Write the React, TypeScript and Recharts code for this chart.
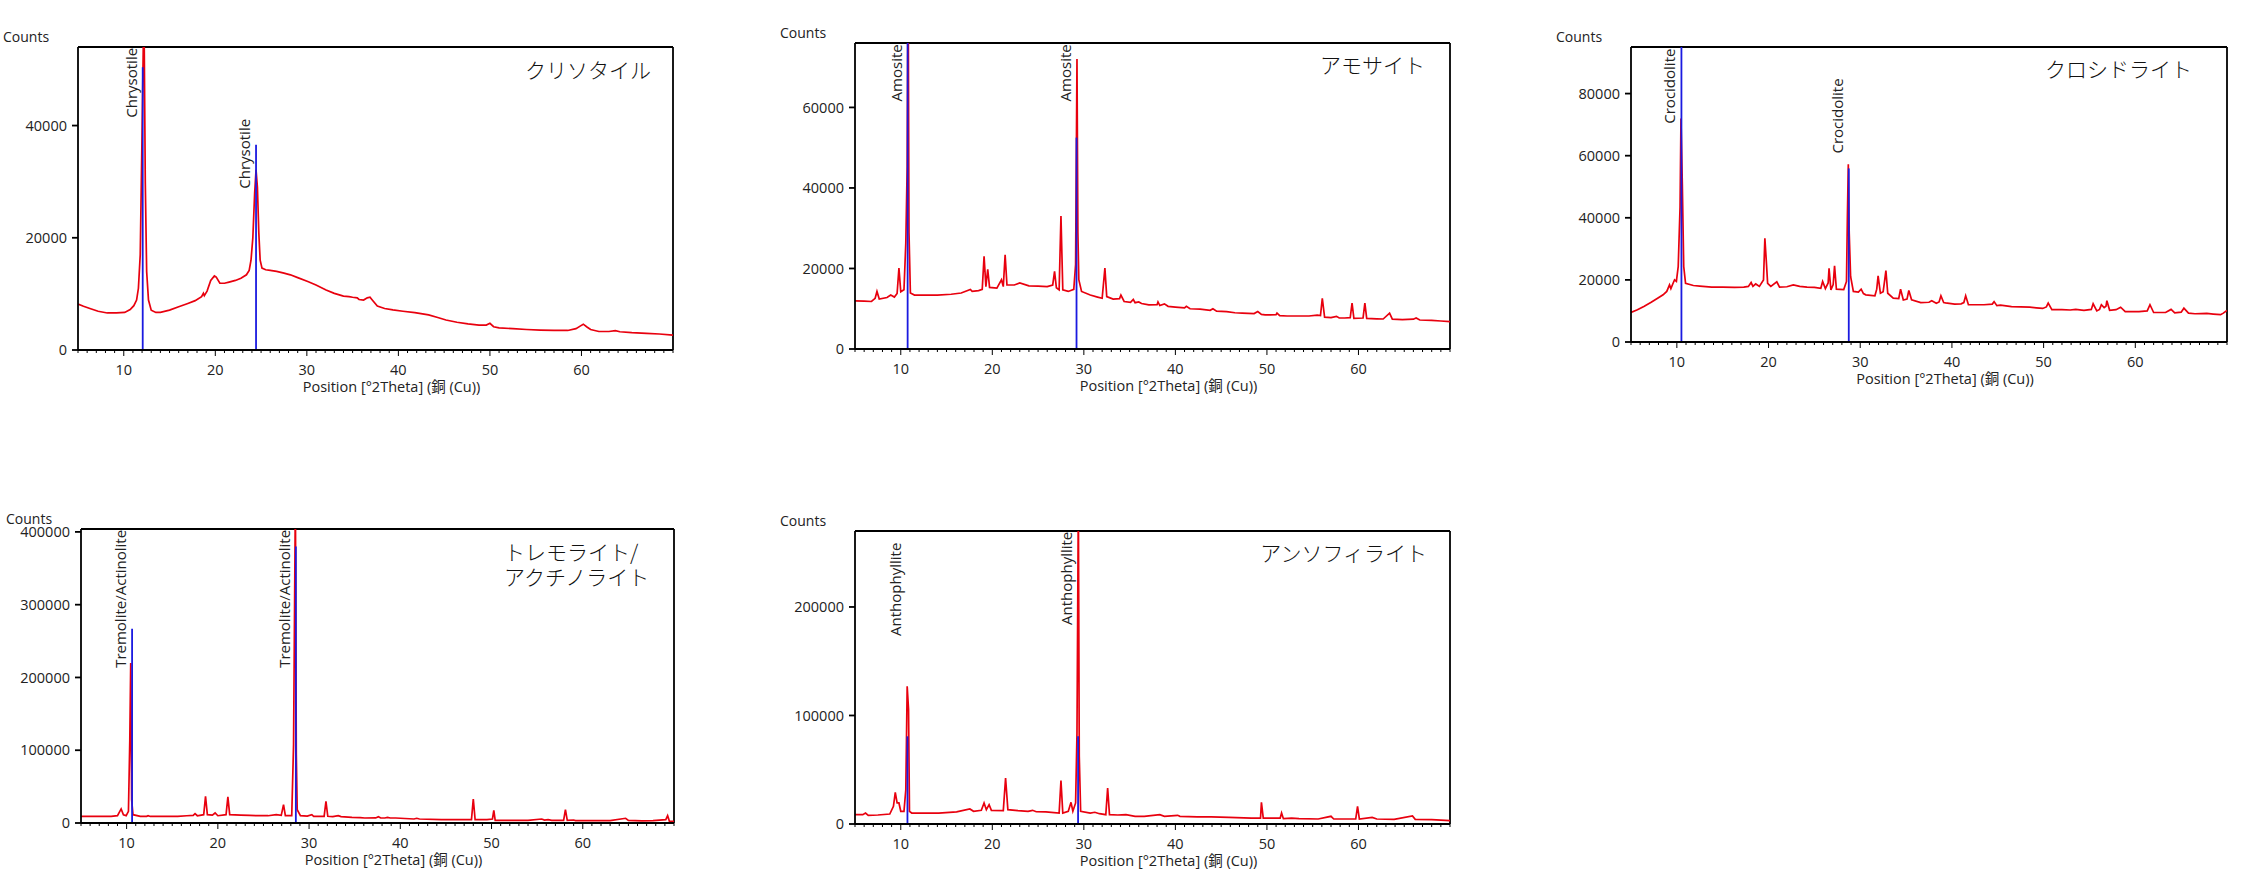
import { LineChart, Line, XAxis, YAxis, ReferenceLine, ReferenceDot } from "recharts";

const FONT = "'Open Sans', 'Noto Sans CJK JP', sans-serif";
const JP_FONT = "'Noto Sans CJK JP', sans-serif";
const RED = "#e8000e";
const BLUE = "#1a1ae0";
const INK = "#222";

// 2theta grid ticks: a long tick + label every 10, a short one every degree
const X_MAJOR = [10, 20, 30, 40, 50, 60];
const X_TICKS = Array.from({ length: 66 }, (_, i) => 5 + i);

// [2theta, counts]
const CHRYSOTILE: [number, number][] = [
  [5.0, 8200], [5.6, 7800], [6.3, 7400], [7.2, 6900], [8.2, 6600], [9.2, 6600], [10.1, 6700],
  [10.7, 7200], [11.1, 7900], [11.4, 8900], [11.6, 11000], [11.8, 17000], [12.0, 38700],
  [12.2, 62000], [12.35, 30000], [12.5, 14000], [12.7, 8900], [13.0, 7100], [13.5, 6700],
  [14.0, 6700], [15.0, 7100], [16.0, 7700], [17.0, 8300], [17.8, 8800], [18.5, 9500],
  [18.7, 10100], [18.8, 9700], [19.1, 10500], [19.5, 12400], [19.9, 13200], [20.1, 13000],
  [20.5, 11900], [21.0, 11900], [21.5, 12100], [22.2, 12400], [22.8, 12800], [23.4, 13400],
  [23.7, 14200], [23.9, 16000], [24.1, 20000], [24.3, 28000], [24.45, 32100], [24.6, 29000],
  [24.75, 21000], [24.9, 16000], [25.1, 14600], [25.5, 14300], [26.0, 14200], [26.7, 14000],
  [27.5, 13700], [28.2, 13400], [29.0, 12900], [30.1, 12200], [31.0, 11600], [32.1, 10700],
  [33.0, 10100], [34.0, 9600], [34.6, 9500], [35.0, 9400], [35.5, 9300], [35.7, 9000],
  [36.2, 8900], [36.6, 9300], [36.9, 9400], [37.1, 9000], [37.7, 7850], [38.5, 7400],
  [39.4, 7150], [40.5, 6900], [41.8, 6650], [43.3, 6250], [44.3, 5800], [45.2, 5350],
  [46.4, 4950], [47.6, 4650], [48.8, 4450], [49.6, 4450], [50.0, 4750], [50.4, 4150],
  [51.0, 3950], [52.5, 3800], [54.0, 3650], [55.5, 3550], [57.0, 3500], [58.5, 3480],
  [59.4, 3800], [59.9, 4300], [60.2, 4600], [60.6, 4100], [61.0, 3650], [61.9, 3300],
  [63.0, 3300], [63.7, 3450], [64.2, 3250], [65.5, 3100], [67.1, 2980], [68.5, 2850],
  [70.0, 2650],
];

const AMOSITE: [number, number][] = [
  [5.0, 11950], [6.0, 11900], [6.8, 11800], [7.2, 12600], [7.4, 14300], [7.65, 12400],
  [8.5, 12800], [8.9, 13400], [9.3, 12900], [9.6, 13800], [9.8, 20100], [10.0, 14200],
  [10.35, 14700], [10.55, 26300], [10.7, 45400], [10.8, 95000], [10.9, 28800], [11.05, 13900],
  [11.5, 13400], [12.5, 13400], [14.0, 13400], [15.5, 13600], [16.6, 13900], [17.6, 14800],
  [17.8, 14300], [18.5, 14500], [18.9, 14800], [19.1, 23000], [19.3, 15500], [19.5, 19800],
  [19.7, 15300], [20.5, 15100], [21.0, 17200], [21.2, 15500], [21.4, 23400], [21.6, 15900],
  [22.4, 15900], [23.0, 16400], [24.0, 15700], [25.0, 15600], [26.0, 15500], [26.6, 15900],
  [26.8, 19300], [27.0, 15200], [27.3, 14700], [27.5, 33000], [27.7, 14700], [28.3, 14300],
  [28.9, 14800], [29.1, 21000], [29.25, 72000], [29.35, 28800], [29.45, 17200], [29.75, 14300],
  [30.7, 13400], [31.5, 12900], [32.0, 12600], [32.3, 20100], [32.5, 13000], [33.2, 12400],
  [33.9, 12500], [34.05, 13400], [34.4, 11800], [35.1, 11600], [35.4, 12300], [35.6, 11500],
  [36.0, 11700], [36.3, 11300], [37.1, 10950], [38.0, 11000], [38.1, 11700], [38.3, 10800],
  [38.8, 11200], [39.2, 10600], [40.0, 10400], [41.0, 10200], [41.2, 10600], [41.6, 10000],
  [42.7, 9900], [43.8, 9600], [44.1, 10000], [44.5, 9400], [45.6, 9300], [46.5, 9000],
  [47.3, 8900], [48.6, 8800], [49.0, 9300], [49.4, 8600], [49.8, 8470], [51.0, 8500],
  [51.1, 8900], [51.4, 8300], [52.2, 8200], [53.5, 8200], [54.6, 8200], [55.5, 8400],
  [55.85, 8300], [56.05, 12600], [56.3, 7900], [57.0, 7800], [57.6, 8100], [57.9, 7700],
  [58.5, 7700], [59.1, 7800], [59.3, 11400], [59.5, 7600], [60.5, 7700], [60.7, 11400],
  [60.9, 7600], [62.0, 7500], [62.7, 7450], [63.4, 8900], [63.7, 7400], [64.8, 7300],
  [66.0, 7400], [66.3, 7700], [66.7, 7200], [68.0, 7100], [69.0, 6950], [70.0, 6800],
];

const CROCIDOLITE: [number, number][] = [
  [5.0, 9500], [5.7, 10400], [6.4, 11450], [7.2, 12800], [7.9, 14100], [8.5, 15200],
  [8.9, 16300], [9.2, 18400], [9.35, 17200], [9.6, 19000], [9.75, 20000], [9.95, 19500],
  [10.15, 24300], [10.35, 43500], [10.45, 72000], [10.6, 50500], [10.75, 24300], [10.95, 18900],
  [11.8, 18200], [12.5, 18000], [13.8, 17650], [15.0, 17700], [16.3, 17600], [17.3, 17700],
  [17.8, 17900], [18.1, 19150], [18.3, 17900], [18.6, 18700], [19.0, 17900], [19.45, 20000],
  [19.6, 33400], [19.75, 26400], [19.9, 18900], [20.25, 17900], [20.9, 19400], [21.2, 17700],
  [22.0, 17800], [22.7, 18400], [23.4, 17900], [24.2, 17700], [25.0, 17600], [25.7, 17300],
  [25.9, 19500], [26.2, 17200], [26.5, 19000], [26.6, 23700], [26.8, 16800], [27.05, 18500],
  [27.2, 24500], [27.4, 17000], [28.2, 16900], [28.5, 19500], [28.6, 40300], [28.7, 57200],
  [28.8, 35000], [28.95, 21100], [29.25, 16300], [29.8, 16100], [30.1, 17000], [30.35, 15600],
  [30.6, 15200], [31.6, 14900], [31.8, 17000], [31.95, 21300], [32.2, 15700], [32.5, 16200],
  [32.65, 19500], [32.8, 23000], [33.0, 15700], [33.6, 14100], [34.2, 14000], [34.4, 17000],
  [34.7, 13500], [35.1, 13800], [35.3, 16600], [35.6, 13600], [36.6, 12700], [37.5, 12800],
  [37.8, 13300], [38.3, 12500], [38.6, 12900], [38.8, 14900], [39.1, 12700], [39.3, 12600],
  [40.3, 12200], [41.0, 12300], [41.3, 12700], [41.5, 14900], [41.8, 12000], [43.0, 12000],
  [43.5, 12000], [44.4, 12200], [44.6, 13000], [44.9, 11700], [45.3, 11900], [46.5, 11400],
  [47.5, 11300], [48.5, 11200], [49.2, 11000], [49.9, 10800], [50.3, 11300], [50.5, 12500],
  [50.9, 10400], [52.0, 10400], [52.9, 10300], [53.5, 10500], [54.4, 10200], [55.2, 10500],
  [55.4, 12300], [55.8, 10000], [56.1, 10500], [56.3, 12000], [56.6, 11100], [56.8, 11500],
  [56.9, 13300], [57.2, 10200], [57.9, 10400], [58.4, 11200], [58.9, 9800], [60.0, 9800],
  [60.4, 9800], [61.3, 10000], [61.6, 12000], [62.0, 9500], [63.3, 9500], [63.9, 10500],
  [64.3, 9400], [65.0, 9600], [65.3, 10900], [65.8, 9300], [66.5, 9100], [67.8, 9200],
  [68.5, 9000], [69.3, 8800], [69.6, 9300], [70.0, 10200],
];

const TREMOLITE: [number, number][] = [
  [5.0, 9200], [6.5, 9100], [8.3, 9100], [9.0, 10100], [9.4, 19300], [9.65, 11400],
  [9.95, 10100], [10.2, 16000], [10.35, 114600], [10.45, 220000], [10.55, 32000], [10.7, 11400],
  [11.5, 9200], [12.2, 9200], [12.35, 10100], [12.6, 9000], [14.0, 9100], [15.6, 9100],
  [16.6, 10000], [17.3, 10500], [17.5, 12800], [17.75, 10000], [18.45, 11400], [18.65, 36700],
  [18.85, 11400], [19.4, 10900], [19.7, 13800], [20.0, 10000], [20.9, 11400], [21.1, 35800],
  [21.3, 11400], [22.5, 10900], [23.5, 10500], [24.4, 10000], [25.5, 10000], [26.4, 11400],
  [26.95, 10500], [27.2, 25200], [27.4, 10000], [28.1, 10000], [28.3, 107700], [28.5, 450000],
  [28.6, 94000], [28.7, 18300], [29.05, 10000], [29.8, 9500], [30.3, 11400], [30.5, 9200],
  [31.65, 9200], [31.85, 29800], [32.05, 9200], [32.6, 8800], [33.2, 10000], [33.5, 8700],
  [34.7, 7800], [35.6, 7500], [36.1, 6900], [37.3, 7000], [37.6, 8700], [37.85, 6900],
  [38.3, 6900], [38.6, 7800], [38.9, 6900], [39.5, 6900], [41.5, 5500], [41.8, 6500],
  [42.1, 5500], [44.5, 4600], [46.0, 4600], [47.8, 4600], [48.0, 33000], [48.2, 4600],
  [49.5, 4600], [50.1, 5500], [50.25, 17400], [50.4, 3700], [52.0, 3700], [54.0, 3700],
  [55.5, 5500], [55.8, 4000], [56.2, 4600], [56.6, 3700], [57.9, 3700], [58.1, 18300],
  [58.3, 3700], [59.0, 4100], [59.2, 3300], [61.6, 3200], [63.0, 3300], [64.7, 6500],
  [65.0, 3700], [66.5, 3000], [67.7, 3300], [69.1, 4600], [69.3, 10100], [69.5, 2300],
  [70.0, 2300],
];

const ANTHOPHYLLITE: [number, number][] = [
  [5.0, 8600], [5.85, 8600], [6.15, 10100], [6.45, 8000], [7.5, 8300], [8.8, 9200],
  [9.2, 16300], [9.4, 29200], [9.6, 19400], [9.8, 19400], [10.0, 11700], [10.35, 11700],
  [10.55, 31600], [10.7, 126900], [10.85, 105400], [10.95, 11700], [11.2, 10100], [12.5, 10100],
  [14.15, 10100], [16.1, 11100], [17.55, 13800], [17.95, 11700], [18.8, 12600], [19.1, 19400],
  [19.35, 13200], [19.65, 17800], [19.9, 12600], [21.2, 12300], [21.45, 42400], [21.7, 13200],
  [22.8, 12300], [23.9, 11700], [24.4, 12600], [24.8, 11300], [25.85, 11100], [27.3, 10100],
  [27.5, 40000], [27.7, 10100], [28.3, 11700], [28.6, 20000], [28.8, 11700], [29.1, 19400],
  [29.25, 83900], [29.4, 300000], [29.5, 62400], [29.65, 11700], [30.7, 10100], [31.2, 10800],
  [31.7, 9500], [32.4, 8600], [32.6, 33200], [32.8, 8600], [33.7, 8300], [34.6, 8600],
  [35.6, 7100], [36.6, 7000], [38.3, 8600], [38.8, 7100], [40.25, 8000], [40.5, 7100],
  [42.4, 6500], [43.9, 6500], [45.85, 6100], [48.3, 5500], [49.3, 5500], [49.4, 20000],
  [49.6, 5500], [51.45, 5500], [51.6, 10100], [51.8, 4900], [52.7, 5500], [53.5, 4900],
  [55.6, 4600], [57.0, 7100], [57.3, 4600], [59.7, 4600], [59.9, 16300], [60.1, 4600],
  [61.5, 6100], [62.0, 4600], [63.9, 4300], [65.9, 7400], [66.2, 4300], [68.0, 4000],
  [70.0, 3100],
];

// reference pattern sticks [2theta, counts] and where each name label starts
const CHRYSOTILE_STICKS: [number, number][] = [[12.07, 50400], [24.45, 36600]];
const AMOSITE_STICKS: [number, number][] = [[10.75, 80000], [29.2, 52500]];
const CROCIDOLITE_STICKS: [number, number][] = [[10.5, 100000], [28.75, 55900]];
const TREMOLITE_STICKS: [number, number][] = [[10.6, 266800], [28.55, 380000]];
const ANTHOPHYLLITE_STICKS: [number, number][] = [[10.73, 80800], [29.37, 80800]];

const CHRYSOTILE_LABEL_AT = [41400, 28750];
const AMOSITE_LABEL_AT = [61500, 61500];
const CROCIDOLITE_LABEL_AT = [70300, 60700];
const TREMOLITE_LABEL_AT = [213200, 213200];
const ANTHOPHYLLITE_LABEL_AT = [173300, 183400];

const AXIS_W = 78;
const TOP_PAD = 47;
const BOTTOM_PAD = 50;
const RIGHT_PAD = 14;
const FRAME_W = 1.8;

type PanelSpec = {
  name: string;
  title: string[];
  titleAnchor: "left" | "right";
  titleX: number;
  titleY: number;
  box: { left: number; top: number; right: number; bottom: number };
  yMax: number;
  yTicks: number[];
  data: [number, number][];
  sticks: [number, number][];
  labelAt: number[];
};

const PANELS: PanelSpec[] = [
  {
    name: "Chrysotile", title: ["クリソタイル"], titleAnchor: "right", titleX: 651, titleY: 70,
    box: { left: 78, top: 47, right: 673, bottom: 350 },
    yMax: 54000, yTicks: [0, 20000, 40000],
    data: CHRYSOTILE, sticks: CHRYSOTILE_STICKS, labelAt: CHRYSOTILE_LABEL_AT,
  },
  {
    name: "Amosite", title: ["アモサイト"], titleAnchor: "right", titleX: 1425, titleY: 65,
    box: { left: 855, top: 43, right: 1450, bottom: 349 },
    yMax: 76000, yTicks: [0, 20000, 40000, 60000],
    data: AMOSITE, sticks: AMOSITE_STICKS, labelAt: AMOSITE_LABEL_AT,
  },
  {
    name: "Crocidolite", title: ["クロシドライト"], titleAnchor: "right", titleX: 2192, titleY: 69,
    box: { left: 1631, top: 47, right: 2227, bottom: 342 },
    yMax: 95000, yTicks: [0, 20000, 40000, 60000, 80000],
    data: CROCIDOLITE, sticks: CROCIDOLITE_STICKS, labelAt: CROCIDOLITE_LABEL_AT,
  },
  {
    name: "Tremolite/Actinolite", title: ["トレモライト/", "アクチノライト"], titleAnchor: "left", titleX: 504, titleY: 552,
    box: { left: 81, top: 529, right: 674, bottom: 823 },
    yMax: 404000, yTicks: [0, 100000, 200000, 300000, 400000],
    data: TREMOLITE, sticks: TREMOLITE_STICKS, labelAt: TREMOLITE_LABEL_AT,
  },
  {
    name: "Anthophyllite", title: ["アンソフィライト"], titleAnchor: "right", titleX: 1427, titleY: 553,
    box: { left: 855, top: 531, right: 1450, bottom: 824 },
    yMax: 270000, yTicks: [0, 100000, 200000],
    data: ANTHOPHYLLITE, sticks: ANTHOPHYLLITE_STICKS, labelAt: ANTHOPHYLLITE_LABEL_AT,
  },
];

function XTick(props: any) {
  const { x, y, payload } = props;
  const major = X_MAJOR.includes(payload.value);
  return (
    <g>
      <line x1={x} y1={y} x2={x} y2={y + (major ? 6 : 3)} stroke="#000" strokeWidth={1} />
      {major && (
        <text x={x} y={y + 25} textAnchor="middle" fontSize={14.5} fill={INK} fontFamily={FONT}>
          {payload.value}
        </text>
      )}
    </g>
  );
}

const xLabel = (props: any) => {
  const vb = props.viewBox ?? { x: 0, y: 0, width: 0 };
  return (
    <text x={vb.x + vb.width / 2 + 16} y={vb.y + 42} textAnchor="middle" fontSize={14.5} fill={INK} fontFamily={FONT}>
      Position [°2Theta] (銅 (Cu))
    </text>
  );
};

const countsLabel = (props: any) => {
  const vb = props.viewBox ?? { x: 0, y: 0, width: AXIS_W };
  return (
    <text x={vb.x + vb.width - 75} y={vb.y - 5} fontSize={14} fill={INK} fontFamily={FONT}>
      Counts
    </text>
  );
};

// stick name, written upward just left of its stick
const peakLabel = (text: string) => (p: any) => {
  const bx = p.cx - 6;
  return (
    <text x={bx} y={p.cy} transform={`rotate(-90 ${bx} ${p.cy})`} fontSize={15} fill={INK} fontFamily={FONT}>
      {text}
    </text>
  );
};

function XrdPanel({ p }: { p: PanelSpec }) {
  const w = p.box.right - p.box.left;
  const h = p.box.bottom - p.box.top;
  const rows = p.data.map(([t, c]) => ({ t, c }));
  return (
    <>
      <div style={{ position: "absolute", left: p.box.left - AXIS_W, top: p.box.top - TOP_PAD }}>
        <LineChart
          width={w + AXIS_W + RIGHT_PAD}
          height={h + TOP_PAD + BOTTOM_PAD}
          data={rows}
          margin={{ top: TOP_PAD, right: RIGHT_PAD, bottom: 0, left: 0 }}
        >
          <XAxis
            dataKey="t"
            type="number"
            domain={[5, 70]}
            allowDataOverflow
            ticks={X_TICKS}
            interval={0}
            tick={<XTick />}
            tickLine={false}
            tickSize={0}
            tickMargin={0}
            height={BOTTOM_PAD}
            stroke="#000"
            strokeWidth={FRAME_W}
            label={xLabel}
          />
          <YAxis
            type="number"
            domain={[0, p.yMax]}
            allowDataOverflow
            ticks={p.yTicks}
            interval={0}
            width={AXIS_W}
            stroke="#000"
            strokeWidth={FRAME_W}
            tickSize={6}
            tickMargin={5}
            tick={{ fill: INK, fontSize: 14.5, fontFamily: FONT }}
            label={countsLabel}
          />
          <ReferenceLine y={p.yMax} stroke="#000" strokeWidth={FRAME_W} ifOverflow="visible" />
          <ReferenceLine x={70} stroke="#000" strokeWidth={FRAME_W} ifOverflow="visible" />
          <Line
            dataKey="c"
            type="linear"
            stroke={RED}
            strokeWidth={1.7}
            dot={false}
            isAnimationActive={false}
          />
          {p.sticks.map(([t, c]) => (
            <ReferenceLine
              key={"s" + t}
              segment={[{ x: t, y: 0 }, { x: t, y: c }]}
              stroke={BLUE}
              strokeWidth={1.8}
              ifOverflow="hidden"
            />
          ))}
          {p.sticks.map(([t], i) => (
            <ReferenceDot key={"l" + t} x={t} y={p.labelAt[i]} r={0} shape={peakLabel(p.name)} ifOverflow="visible" />
          ))}
        </LineChart>
      </div>
      <div
        style={{
          position: "absolute",
          left: p.titleAnchor === "right" ? p.titleX - 400 : p.titleX,
          width: 400,
          top: p.titleY - 13,
          textAlign: p.titleAnchor,
          fontFamily: JP_FONT,
          fontSize: 21,
          fontWeight: 300,
          lineHeight: "25px",
          color: "#111",
          whiteSpace: "nowrap",
        }}
      >
        {p.title.map((line) => (
          <div key={line}>{line}</div>
        ))}
      </div>
    </>
  );
}

export default function App() {
  return (
    <div style={{ position: "absolute", left: 0, top: 0, width: 2242, height: 881, background: "#fff", overflow: "hidden" }}>
      {PANELS.map((p) => (
        <XrdPanel key={p.name} p={p} />
      ))}
    </div>
  );
}
